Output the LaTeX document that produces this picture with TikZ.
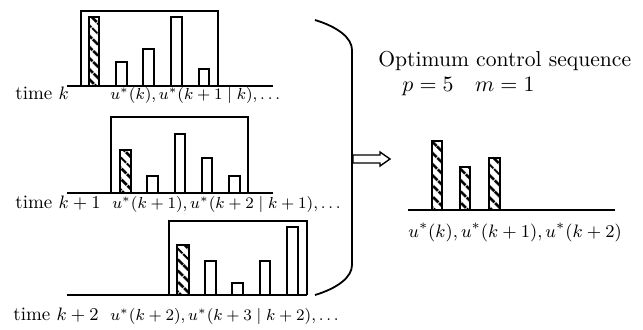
\documentclass[tikz,border=0pt]{standalone}
\usetikzlibrary{patterns.meta}
\tikzset{
  x=0.5pt, y=-0.5pt,
  frame/.style={line width=0.9pt},
  plainbar/.style={draw, line width=0.9pt, fill=white},
  hatchbar/.style={draw, line width=0.9pt, pattern={Lines[angle=-45,distance=4pt,line width=1.5pt]}},
  timelbl/.style={inner sep=0pt, anchor=base west, font=\fontsize{9.5}{11}\selectfont},
  seqlbl/.style={inner sep=0pt, anchor=base west, font=\fontsize{7.9}{9}\selectfont},
  titlelbl/.style={inner sep=0pt, anchor=base west, font=\fontsize{10.8}{13}\selectfont},
  reslbl/.style={inner sep=0pt, anchor=base west, font=\fontsize{9.3}{11}\selectfont},
}
\newcommand\pbar[4]{\draw[plainbar] (#1,#4) rectangle (#2,#3);}
\newcommand\hbarr[4]{\draw[hatchbar] (#1,#4) rectangle (#2,#3);}
\begin{document}
\begin{tikzpicture}
\useasboundingbox (0,0) rectangle (643,329);

% ---- panel 1: time k
\draw[frame] (67,86) -- (273,86);
\draw[frame] (81,86) |- (218,11) -- (218,86);
\hbarr{89}{99}{17}{86}
\pbar{116}{127}{62}{86}
\pbar{143}{154}{49}{86}
\pbar{171}{182}{17}{86}
\pbar{199}{209}{69}{86}
\node[timelbl] (t1) at (15,99) {time $k$};
\node[seqlbl] (s1) at (110,99) {$u^*(k), u^*(k+1\mid k), \ldots$};

% ---- panel 2: time k+1
\draw[frame] (67,193) -- (273,193);
\draw[frame] (111,193) |- (248,117) -- (248,193);
\hbarr{120}{131}{150}{193}
\pbar{147}{158}{176}{193}
\pbar{175}{185}{134}{193}
\pbar{202}{212}{158}{193}
\pbar{229}{240}{176}{193}
\node[timelbl] (t2) at (15,208) {time $k+1$};
\node[seqlbl] (s2) at (112,208) {$u^*(k+1), u^*(k+2\mid k+1), \ldots$};

% ---- panel 3: time k+2
\draw[frame] (67,295) -- (307,295);
\draw[frame] (169,295) |- (307,221) -- (307,295);
\hbarr{177}{189}{245}{295}
\pbar{205}{216}{261}{295}
\pbar{232}{243}{283}{295}
\pbar{260}{270}{261}{295}
\pbar{287}{298}{227}{295}
\node[timelbl] (t3) at (13,320) {time $k+2$};
\node[seqlbl] (s3) at (110,320) {$u^*(k+2), u^*(k+3\mid k+2), \ldots$};

% ---- brace
\draw[frame] (315,20) .. controls (338,27) and (352,38) .. (352,50)
  -- (352,265) .. controls (352,277) and (338,288) .. (315,295);

% ---- hollow arrow
\draw[line width=0.7pt, fill=white] (353,155) -- (380,155) -- (380,152) -- (390,159)
  -- (380,166) -- (380,163) -- (353,163) -- cycle;

% ---- result
\node[titlelbl] (ttl) at (378,66) {Optimum control sequence};
\node[titlelbl] (pm) at (402,91.5) {$p=5 \quad m=1$};
\draw[frame] (408,210) -- (615,210);
\hbarr{432}{442}{141}{210}
\hbarr{460}{470}{167}{210}
\hbarr{489}{500}{158}{210}
\node[reslbl] (res) at (408,237) {$u^*(k), u^*(k+1), u^*(k+2)$};
\end{tikzpicture}
\end{document}
